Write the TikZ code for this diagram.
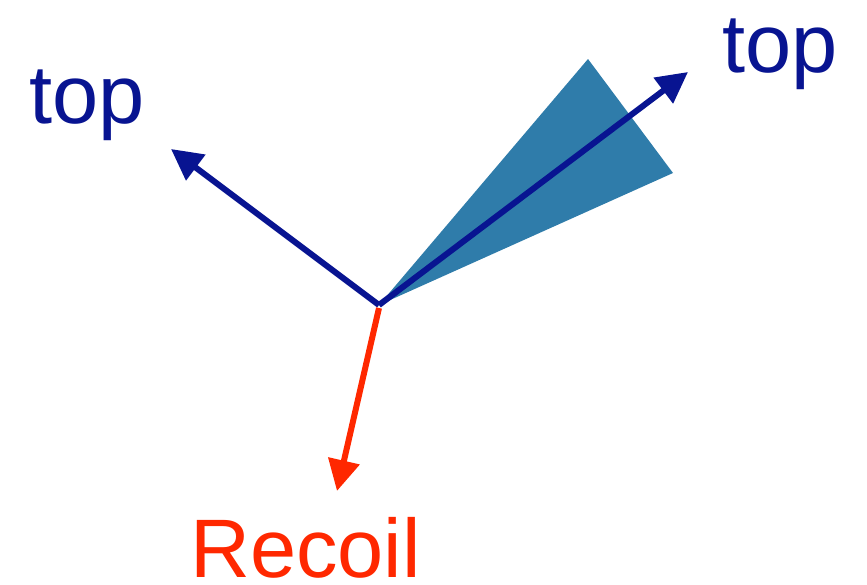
\documentclass[tikz,border=0pt]{standalone}
\usepackage{fontspec}
\setmainfont{Liberation Sans}
\usepackage{xcolor}
\usepackage{tikz}
\usetikzlibrary{arrows.meta}

\definecolor{topblue}{RGB}{8,20,145}
\definecolor{conefill}{RGB}{47,124,170}
\definecolor{recoilred}{RGB}{255,40,0}

\begin{document}
\begin{tikzpicture}[
    x=1pt, y=-1pt,
    every node/.style={font=\fontsize{83}{100}\selectfont, inner sep=0pt},
    arr/.style={-{Triangle[length=31pt, width=31pt]}, line width=6pt, draw=#1},
    arr/.default=topblue,
    lbl/.style={anchor=base west, text=#1},
]
    \useasboundingbox (0,0) rectangle (867,584);
    % jet cone
    \coordinate (o) at (379,305);
    \fill[conefill] (o) -- (588,59) -- (673,173) -- cycle;
    % arrow ends
    \coordinate (tl) at (171,149);
    \coordinate (tr) at (688,72);
    \coordinate (rc) at (337,491);
    \draw[arr] (o) -- (tl);
    \draw[arr] (o) -- (tr);
    \draw[arr=recoilred] ([yshift=-3pt]o) -- (rc);
    % labels
    \node[lbl=topblue] (topl) at (29,123) {top};
    \node[lbl=topblue] (topr) at (722,72) {top};
    \node[lbl=recoilred] (recoil) at (190,577) {Recoil};
\end{tikzpicture}
\end{document}
